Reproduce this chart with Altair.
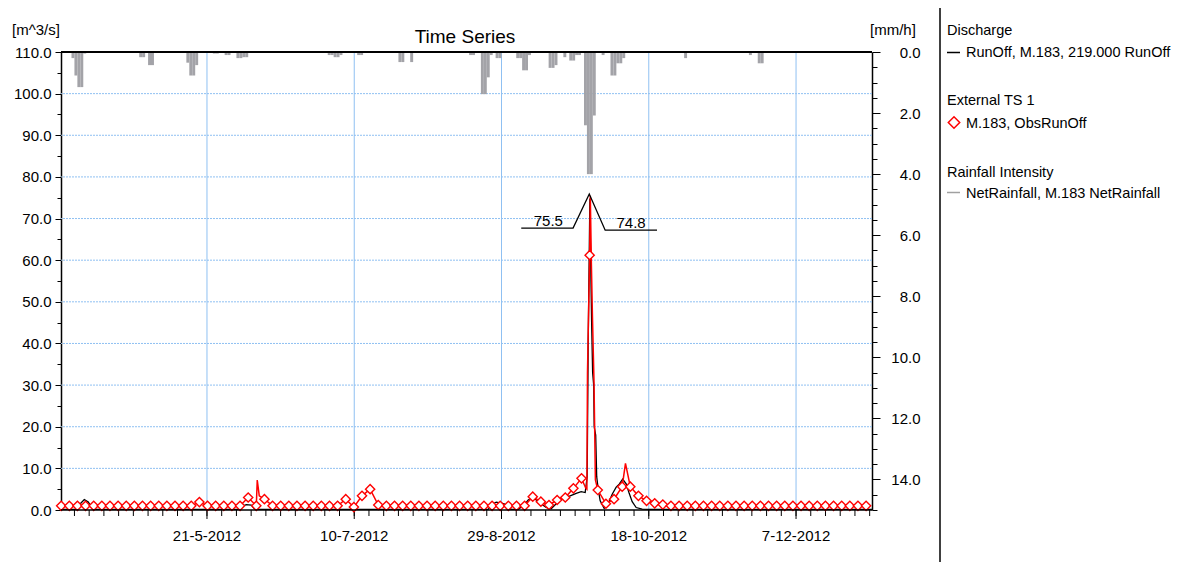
import altair as alt
import pandas as pd

START = pd.Timestamp("2012-04-01 00:00:00")
FONT = "Liberation Sans"
GRID = "#8fc0f2"

# ---------------- data ----------------
# simulated discharge (black), (day offset from 1-4-2012, m^3/s)
sim_points = [
    (0.0, 0.15), (5.63, 0.15), (6.99, 1.5), (8.35, 2.5), (9.71, 1.9), (11.07, 0.3), (12.42, 0.15),
    (60.62, 0.15), (61.98, 0.9), (63.34, 1.3), (65.04, 1.2), (66.06, 0.3), (67.42, 0.15),
    (145.49, 0.15), (146.84, 1.4), (148.20, 1.9), (149.56, 1.7), (150.92, 1.5), (152.27, 0.3),
    (153.63, 0.15), (155.67, 0.15), (157.71, 1.2), (159.06, 2.4), (160.42, 3.0), (161.78, 2.4),
    (163.14, 1.6), (165.17, 0.6), (166.87, 0.3), (168.57, 1.5), (170.26, 2.6), (171.96, 3.0),
    (173.32, 3.4), (175.36, 4.0), (177.05, 4.4), (178.41, 4.2), (179.09, 8.0), (179.43, 40.0),
    (180.00, 74.8), (180.26, 60.0), (180.60, 45.0), (180.94, 33.0), (181.30, 30.0), (181.47, 20.0),
    (181.98, 18.0), (182.32, 8.0), (182.83, 5.0), (183.50, 2.2), (184.86, 0.4), (186.22, 1.5),
    (187.58, 3.8), (188.94, 5.5), (189.96, 6.2), (191.14, 7.4), (192.33, 6.3), (193.35, 4.0),
    (194.37, 2.0), (195.72, 0.6), (197.76, 0.2), (200.48, 0.15), (276.0, 0.15),
]

# observed discharge (red): values at the diamond markers (one every 66.25 h from 1-4-2012 12:00)
obs_marker_vals = [
    1.0, 1.0, 1.0, 1.0, 1.0, 1.0, 1.0, 1.0, 1.0, 1.0, 1.0, 1.0, 1.0, 1.0, 1.0, 1.0, 1.0,
    1.9,
    1.0, 1.0, 1.0, 1.0, 1.0,
    3.0, 1.0, 2.6,
    1.0, 1.0, 1.0, 1.0, 1.0, 1.0, 1.0, 1.0, 1.0,
    2.6, 0.7, 3.4, 5.0, 1.2,
    1.0, 1.0, 1.0, 1.0, 1.0, 1.0, 1.0, 1.0, 1.0, 1.0, 1.0, 1.0, 1.0, 1.0, 1.0, 1.0, 1.0, 1.0,
    3.2, 2.0, 1.2, 2.4, 3.0, 5.2, 7.6, 61.2, 4.8, 1.5, 2.6, 5.6, 5.6, 3.4, 2.2, 1.6, 1.3,
    1.0, 1.0, 1.0, 1.0, 1.0, 1.0, 1.0, 1.0, 1.0, 1.0, 1.0, 1.0, 1.0, 1.0, 1.0, 1.0, 1.0,
    1.0, 1.0, 1.0, 1.0, 1.0, 1.0, 1.0, 1.0,
]
# observed points between markers (day offset, m^3/s)
obs_extra = [
    (67.07, 7.2), (67.75, 3.4),
    (178.58, 5.3), (178.99, 5.0), (179.19, 33.0), (180.15, 75.5), (180.52, 59.0),
    (180.86, 47.0), (181.40, 31.0), (181.88, 7.2),
    (192.09, 11.2),
]

# net rainfall (grey bars, one per day), (day offset, mm/h)
rain_points = [
    (4, 0.2), (5, 0.77), (6, 1.15), (7, 1.15), (8, 0.05),
    (27, 0.17), (28, 0.17), (30, 0.43), (31, 0.43),
    (43, 0.35), (44, 0.77), (45, 0.77), (46, 0.43),
    (52, 0.05), (53, 0.05), (56, 0.1), (57, 0.1), (60, 0.2), (61, 0.2), (62, 0.17), (63, 0.17),
    (91, 0.1), (92, 0.1), (93, 0.17), (94, 0.17), (95, 0.1),
    (101, 0.1), (102, 0.1),
    (115, 0.33), (116, 0.33), (119, 0.33),
    (139, 0.1), (140, 0.1),
    (143, 1.38), (144, 1.38), (145, 0.83), (146, 0.1),
    (148, 0.2), (149, 0.2),
    (155, 0.2), (156, 0.2), (157, 0.6), (158, 0.6), (159, 0.1),
    (166, 0.52), (167, 0.52), (168, 0.43),
    (171, 0.17),
    (173, 0.28), (174, 0.28), (175, 0.1), (176, 0.1),
    (178, 2.4), (179, 4.0), (180, 4.0), (181, 2.08),
    (184, 0.1),
    (187, 0.77), (188, 0.77), (189, 0.37), (190, 0.37), (191, 0.2),
    (212, 0.2),
    (234, 0.1), (237, 0.37), (238, 0.37),
]

# peak annotation (day offset, m^3/s) and its labels
ann_points = [(156.7, 67.7), (174.3, 67.7), (179.8, 75.9), (185.2, 67.2), (202.8, 67.2)]
ann_labels = [(165.9, 67.7, "75.5"), (194.0, 67.2, "74.8")]

# x axis ticks, labels and grid positions
x_minor_dates = pd.date_range("2012-04-06", "2013-01-01", freq="5D")
x_major_dates = ["2012-05-21", "2012-07-10", "2012-08-29", "2012-10-18", "2012-12-07"]
x_major_labels = ["21-5-2012", "10-7-2012", "29-8-2012", "18-10-2012", "7-12-2012"]
y_grid_vals = [10, 20, 30, 40, 50, 60, 70, 80, 90, 100]

# ---------------- frames ----------------
def day_to_t(days):
    return START + pd.to_timedelta(days, unit="D")

sim_df = pd.DataFrame(sim_points, columns=["d", "q"])
sim_df["t"] = day_to_t(sim_df["d"])

mk_df = pd.DataFrame({"q": obs_marker_vals})
mk_df["t"] = START + pd.Timedelta(hours=12) + pd.to_timedelta(mk_df.index * 3975, unit="min")
ex_df = pd.DataFrame(obs_extra, columns=["d", "q"])
ex_df["t"] = day_to_t(ex_df["d"])
obs_df = pd.concat([mk_df[["t", "q"]], ex_df[["t", "q"]]]).sort_values("t").reset_index(drop=True)

rain_df = pd.DataFrame(rain_points, columns=["d", "r"])
rain_df["t"] = day_to_t(rain_df["d"])
rain_df["t2"] = day_to_t(rain_df["d"] + 1)
rain_df["z"] = 0.0

ann_df = pd.DataFrame(ann_points, columns=["d", "q"])
ann_df["t"] = day_to_t(ann_df["d"])
lab_df = pd.DataFrame(ann_labels, columns=["d", "q", "s"])
lab_df["t"] = day_to_t(lab_df["d"])

xg_df = pd.DataFrame({"t": pd.to_datetime(x_major_dates), "s": x_major_labels})
xm_df = pd.DataFrame({"t": x_minor_dates})
yg_df = pd.DataFrame({"q": y_grid_vals})

# ---------------- scales & axes ----------------
xscale = alt.Scale(domain=[alt.DateTime(year=2012, month=4, date=1, hours=10, minutes=30),
                           alt.DateTime(year=2013, month=1, date=1, hours=19)])

lscale = alt.Scale(domain=[0, 110], nice=False, zero=True)
ltest = "datum.value % 10 === 0"
laxis = alt.Axis(
    orient="left", values=list(range(0, 111, 5)),
    labelExpr=ltest + " ? format(datum.value, '.1f') : ''",
    tickSize={"condition": {"test": ltest, "value": 6}, "value": 4},
    grid=False, labelPadding=4, labelOverlap=False, domainWidth=1.5,
)

rscale = alt.Scale(domain=[0, 15], reverse=True, nice=False, zero=True)
rtest = "datum.value % 2 === 0"
raxis = alt.Axis(
    orient="right", values=[v * 0.5 for v in range(0, 31)],
    labelExpr=rtest + " ? format(datum.value, '.1f') : ''",
    tickSize={"condition": {"test": rtest, "value": 8}, "value": 5},
    labelAlign="right", labelPadding=40, labelOverlap=False,
    grid=False, domainWidth=1.5,
)

X = lambda f="t": alt.X(f + ":T", scale=xscale, axis=None)

# ---------------- layers ----------------
xgrid = alt.Chart(xg_df).mark_rule(color=GRID, strokeWidth=1).encode(x=X())
xmajor = alt.Chart(xg_df).mark_rule(color="black", strokeWidth=1).encode(
    x=X(), y=alt.value(458), y2=alt.value(467)
)
xlabels = alt.Chart(xg_df).mark_text(
    font=FONT, fontSize=15, baseline="alphabetic", align="center", color="black"
).encode(x=X(), y=alt.value(489), text="s:N")
xminor = alt.Chart(xm_df).mark_rule(color="black", strokeWidth=1).encode(
    x=X(), y=alt.value(458), y2=alt.value(464)
)
ygrid = alt.Chart(yg_df).mark_rule(color=GRID, strokeWidth=1, strokeDash=[2, 1]).encode(
    y=alt.Y("q:Q", scale=lscale, axis=laxis, title=None),
)

rain = alt.Chart(rain_df).mark_rect(color="#a3a3a8").encode(
    x=X(), x2="t2:T",
    y=alt.Y("r:Q", scale=rscale, axis=raxis, title=None),
    y2="z:Q",
)

sim = alt.Chart(sim_df).mark_line(color="black", strokeWidth=1.3, clip=True).encode(
    x=X(), y=alt.Y("q:Q", scale=lscale, axis=None),
)
obs = alt.Chart(obs_df).mark_line(color="#ff0000", strokeWidth=1.5, clip=True).encode(
    x=X(), y=alt.Y("q:Q", scale=lscale, axis=None),
)
markers = alt.Chart(mk_df).mark_point(
    shape="diamond", size=85, filled=True, fill="white", stroke="#ff0000",
    strokeWidth=1.4, opacity=1,
).encode(x=X(), y=alt.Y("q:Q", scale=lscale, axis=None))
ann = alt.Chart(ann_df).mark_line(color="black", strokeWidth=1.3).encode(
    x=X(), y=alt.Y("q:Q", scale=lscale, axis=None),
)
ann_txt = alt.Chart(lab_df).mark_text(
    font=FONT, fontSize=15, baseline="alphabetic", dy=-2, color="black"
).encode(x=X(), y=alt.Y("q:Q", scale=lscale, axis=None), text="s:N")

one = pd.DataFrame({"a": [0]})
top_rule = alt.Chart(one).mark_rule(color="black", strokeWidth=2).encode(
    x=alt.value(0), x2=alt.value(811), y=alt.value(0)
)
bottom_rule = alt.Chart(one).mark_rule(color="black", strokeWidth=1.5).encode(
    x=alt.value(0), x2=alt.value(811), y=alt.value(458)
)
sep_rule = alt.Chart(one).mark_rule(color="black", strokeWidth=1.5).encode(
    x=alt.value(879), y=alt.value(-44), y2=alt.value(510)
)


def txt(s, px, py, size=15, align="left"):
    return alt.Chart(pd.DataFrame({"s": [s]})).mark_text(
        font=FONT, fontSize=size, align=align, baseline="alphabetic", color="black"
    ).encode(x=alt.value(px), y=alt.value(py), text="s:N")


LEG = 14.5
texts = [
    txt("Time Series", 404, -9, size=19, align="center"),
    txt("[m^3/s]", -49, -17),
    txt("[mm/h]", 809, -17),
    txt("Discharge", 886, -17, size=LEG),
    txt("RunOff, M.183, 219.000 RunOff", 905, 5, size=LEG),
    txt("External TS 1", 886, 53, size=LEG),
    txt("M.183, ObsRunOff", 905, 76, size=LEG),
    txt("Rainfall Intensity", 886, 125, size=LEG),
    txt("NetRainfall, M.183 NetRainfall", 905, 146, size=LEG),
]
leg_black = alt.Chart(one).mark_rule(color="black", strokeWidth=1.5).encode(
    x=alt.value(886), x2=alt.value(899), y=alt.value(0.5)
)
leg_gray = alt.Chart(one).mark_rule(color="#a0a0a0", strokeWidth=1.5).encode(
    x=alt.value(886), x2=alt.value(899), y=alt.value(140.5)
)
leg_diamond = alt.Chart(one).mark_point(
    shape="diamond", size=130, filled=True, fill="white", stroke="#ff0000", strokeWidth=1.5, opacity=1
).encode(x=alt.value(893), y=alt.value(70.5))

chart = (
    alt.layer(xgrid, ygrid, xminor, xmajor, xlabels, rain, sim, obs, markers, ann, ann_txt,
              top_rule, bottom_rule, sep_rule, leg_black, leg_gray, leg_diamond, *texts)
    .resolve_scale(y="independent")
    .properties(
        width=811, height=458,
        padding={"left": 53, "top": 44, "right": 303, "bottom": 52},
        autosize=alt.AutoSizeParams(type="none"),
        background="white",
    )
    .configure_view(stroke=None)
    .configure_axis(
        labelFont=FONT, labelFontSize=15, labelColor="black",
        domainColor="black", tickColor="black", tickWidth=1,
    )
)

chart.save("out.html", embed_options={"renderer": "svg", "actions": False})
